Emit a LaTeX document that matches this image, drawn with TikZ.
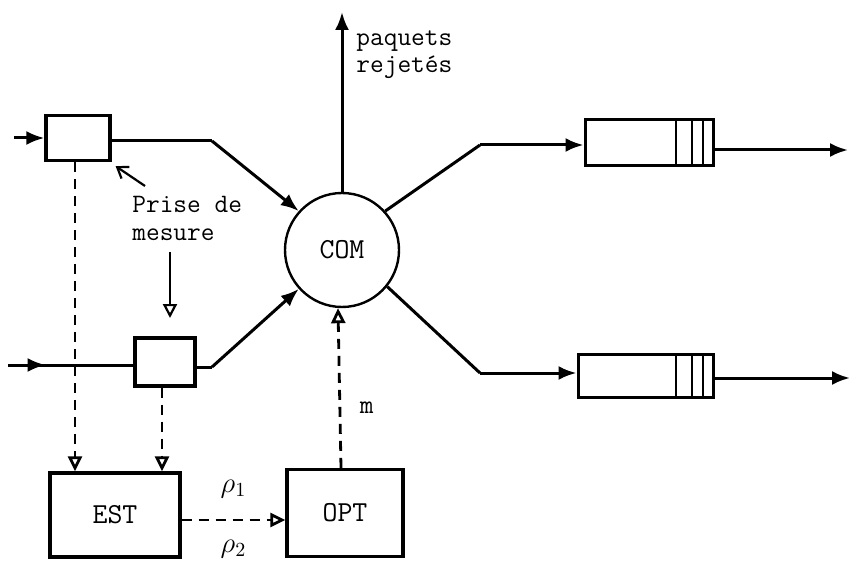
\documentclass[tikz,border=0pt]{standalone}
\usepackage{fontspec}
\usetikzlibrary{arrows.meta, positioning, calc, decorations.markings}

\begin{document}
\begin{tikzpicture}[
    x=0.5pt, y=-0.5pt,
    % --- styles ---
    mesbox/.style={draw, line width=1.6pt, minimum width=32pt, minimum height=22.5pt, inner sep=0pt},
    blockbox/.style={draw, line width=1.6pt, inner sep=0pt, font=\ttfamily\fontsize{14.5}{16}\selectfont},
    combox/.style={circle, draw, line width=1.2pt, minimum size=57pt, inner sep=0pt, font=\ttfamily\fontsize{14.5}{16}\selectfont},
    queuebox/.style={draw, line width=1.5pt, minimum height=23pt, inner sep=0pt,
        path picture={\foreach \d in {5,10.5,18.5}
            \draw[line width=1.3pt] ([xshift=-\d pt]path picture bounding box.north east) -- ([xshift=-\d pt]path picture bounding box.south east);}},
    flow/.style={line width=1.5pt, -{Latex[length=9pt,width=7pt]}},
    line/.style={line width=1.5pt},
    midflow/.style={line width=1.5pt, postaction={decorate},
        decoration={markings, mark=at position 0.3 with {\arrow{Latex[length=9pt,width=7pt]}}}},
    meas/.style={line width=1.4pt, dash pattern=on 5pt off 3.5pt, -{Triangle[open,length=7.5pt,width=7pt,line width=1.4pt]}},
    labeltext/.style={font=\ttfamily\fontsize{13.3}{13.7}\selectfont, align=left, inner sep=0pt}
]
\useasboundingbox (0,0) rectangle (851,561);

% === nodes ===
\node[mesbox] (mes1) at (78,138) {};
\node[mesbox, minimum width=30pt, minimum height=24pt] (mes2) at (165,362) {};
\node[combox] (com) at (342,250) {COM};
\node[blockbox, minimum width=65pt, minimum height=42pt] (est) at (115,515) {EST};
\node[blockbox, minimum width=58pt, minimum height=43.5pt] (opt) at (345,513) {OPT};
\node[queuebox, minimum width=64pt] (q1) at (649,143) {};
\node[queuebox, minimum width=67.5pt, minimum height=21.5pt] (q2) at (645.5,376) {};

% free ends
\coordinate (in1) at (14,138);
\coordinate (in2) at (8,365);
\coordinate (j1) at (212,141);
\coordinate (j2) at (212,367);
\coordinate (j3) at (480,145);
\coordinate (j4) at (480,373);
\coordinate (out1) at (848,150);
\coordinate (out2) at (850,378);
\coordinate (rej) at (342,12);

% === connectors ===
\draw[flow] (in1) -- (mes1.west);
\draw[midflow] (in2) -- (mes2.west |- in2);
\draw[line] (mes1.east |- j1) -- (j1);
\draw[flow] (j1) -- (com.138);
\draw[line] (mes2.east |- j2) -- (j2);
\draw[flow] (j2) -- (com.222);
\draw[flow] (com.north) -- (rej);
\draw[line] (com.42) -- (j3);
\draw[flow] (j3) -- (q1.west |- j3);
\draw[line] (com.-39) -- (j4);
\draw[flow] (j4) -- (q2.west |- j4);
\draw[flow] (q1.east |- 0,150) -- (out1);
\draw[flow] (q2.east |- 0,378) -- (out2);

% mesures
\draw[meas] ([xshift=-1.5pt]mes1.south) -- ([xshift=-1.5pt]mes1.south |- est.north);
\draw[meas] ([xshift=-1.5pt]mes2.south) -- ([xshift=-1.5pt]mes2.south |- est.north);
\draw[meas] (est.east |- 0,520) -- node[above=7pt, font=\fontsize{14}{16}\selectfont] {$\rho_1$} node[below=6pt, font=\fontsize{14}{16}\selectfont] {$\rho_2$} (opt.west |- 0,520);
\draw[meas] ([xshift=-2pt]opt.north) -- node[pos=0.38, right=6pt, font=\ttfamily\fontsize{13.3}{14}\selectfont] {m} ([xshift=-2pt]com.south);

% === texts ===
\node[labeltext, anchor=north west] (paq) at (356,30) {paquets\\rejetés};
\node[labeltext, anchor=north west] (prise) at (132,196) {Prise de\\mesure};
\coordinate (p1) at (145,186);
\coordinate (p2) at (170,252);
\coordinate (p3) at (170,318);
\draw[line width=1.1pt, -{Straight Barb[length=5pt,width=7pt,line width=1.1pt]}] (p1) -- ([shift={(2pt,-2pt)}]mes1.south east);
\draw[line width=1.1pt, -{Triangle[open,length=7pt,width=7pt,line width=1.1pt]}] (p2) -- (p3);

\end{tikzpicture}
\end{document}
